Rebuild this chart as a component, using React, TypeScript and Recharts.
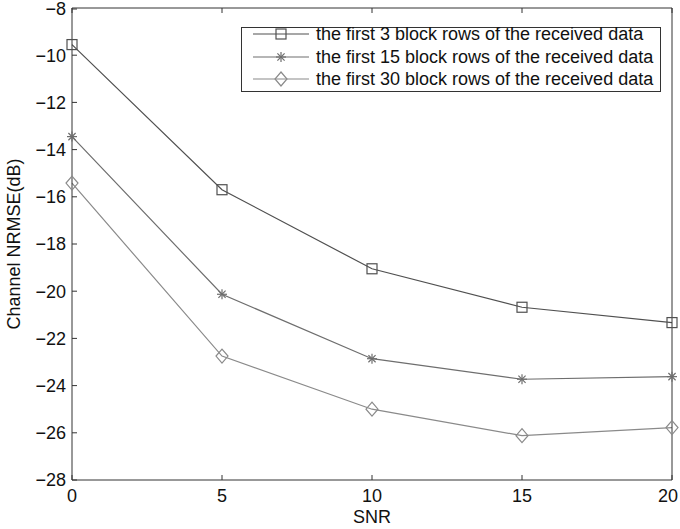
import { LineChart, Line, XAxis, YAxis } from "recharts";

const SNR = [0, 5, 10, 15, 20];
const ROWS_3 = [-9.55, -15.7, -19.05, -20.68, -21.33];
const ROWS_15 = [-13.45, -20.13, -22.86, -23.73, -23.62];
const ROWS_30 = [-15.42, -22.75, -25.0, -26.12, -25.78];
const Y_TICKS = [-28, -26, -24, -22, -20, -18, -16, -14, -12, -10, -8];

type Shape = "square" | "star" | "diamond";

const SERIES: { key: string; name: string; color: string; shape: Shape }[] = [
  { key: "r3", name: "the first 3 block rows of the received data", color: "#505050", shape: "square" },
  { key: "r15", name: "the first 15 block rows of the received data", color: "#6e6e6e", shape: "star" },
  { key: "r30", name: "the first 30 block rows of the received data", color: "#8a8a8a", shape: "diamond" },
];

const data = SNR.map((snr, i) => ({
  snr,
  r3: ROWS_3[i],
  r15: ROWS_15[i],
  r30: ROWS_30[i],
}));

const FONT = "'Liberation Sans', Arial, sans-serif";
const FS = 18;
const AXIS = "#333";
const minus = (v: number) => String(v).replace("-", "\u2212");

function Marker({ cx, cy, shape, color }: { cx: number; cy: number; shape: Shape; color: string }) {
  if (shape === "square") {
    return <rect x={cx - 5} y={cy - 5} width={10} height={10} fill="none" stroke={color} strokeWidth={1.2} />;
  }
  if (shape === "diamond") {
    return (
      <polygon
        points={`${cx},${cy - 7} ${cx + 6},${cy} ${cx},${cy + 7} ${cx - 6},${cy}`}
        fill="none"
        stroke={color}
        strokeWidth={1.2}
      />
    );
  }
  const r = 5;
  const d = 3.6;
  return (
    <g stroke={color} strokeWidth={1.2}>
      <line x1={cx - r} y1={cy} x2={cx + r} y2={cy} />
      <line x1={cx} y1={cy - r} x2={cx} y2={cy + r} />
      <line x1={cx - d} y1={cy - d} x2={cx + d} y2={cy + d} />
      <line x1={cx - d} y1={cy + d} x2={cx + d} y2={cy - d} />
    </g>
  );
}

const BottomTick = (props: any) => {
  const { x, y, payload } = props;
  // keep the last label inside the 680px frame
  const tx = Math.min(x, 668);
  return (
    <g>
      <line x1={x} y1={y} x2={x} y2={y - 5} stroke={AXIS} />
      <text x={tx} y={y + 22} textAnchor="middle" fontSize={FS} fontFamily={FONT} fill="#111">
        {payload.value}
      </text>
    </g>
  );
};

const TopTick = (props: any) => {
  const { x, y } = props;
  return <line x1={x} y1={y} x2={x} y2={y + 5} stroke={AXIS} />;
};

const LeftTick = (props: any) => {
  const { x, y, payload } = props;
  return (
    <g>
      <line x1={x} y1={y} x2={x + 5} y2={y} stroke={AXIS} />
      <text x={x - 6} y={y} dy="0.35em" textAnchor="end" fontSize={FS} fontFamily={FONT} fill="#111">
        {minus(payload.value)}
      </text>
    </g>
  );
};

const RightTick = (props: any) => {
  const { x, y } = props;
  return <line x1={x} y1={y} x2={x - 5} y2={y} stroke={AXIS} />;
};

function LegendBox() {
  return (
    <div
      style={{
        position: "absolute",
        left: 241,
        top: 27,
        width: 418,
        height: 63,
        border: `1px solid ${AXIS}`,
        background: "#fff",
        fontFamily: FONT,
        fontSize: FS,
        color: "#111",
      }}
    >
      {SERIES.map((s, i) => (
        <div
          key={s.key}
          style={{
            position: "absolute",
            left: 0,
            top: [6, 29, 51][i] - 11,
            height: 22,
            display: "flex",
            alignItems: "center",
            whiteSpace: "nowrap",
          }}
        >
          <svg width={72} height={22} style={{ display: "block" }}>
            <line x1={11} y1={11} x2={67} y2={11} stroke={s.color} strokeWidth={1.2} />
            <Marker cx={39} cy={11} shape={s.shape} color={s.color} />
          </svg>
          <span style={{ marginLeft: 2 }}>{s.name}</span>
        </div>
      ))}
    </div>
  );
}

export default function App() {
  return (
    <div style={{ position: "absolute", left: 0, top: 0, width: 680, height: 529, background: "#fff" }}>
      <LineChart width={680} height={529} data={data} margin={{ top: 0, right: 0, bottom: 0, left: 0 }}>
        <XAxis
          xAxisId="b"
          dataKey="snr"
          type="number"
          domain={[0, 20]}
          ticks={SNR}
          height={49}
          stroke={AXIS}
          tickLine={false}
          tickSize={0}
          tickMargin={0}
          tick={<BottomTick />}
          label={{
            content: () => (
              <text x={372} y={523} textAnchor="middle" fontSize={FS} fontFamily={FONT} fill="#111">
                SNR
              </text>
            ),
          }}
        />
        <XAxis
          xAxisId="t"
          orientation="top"
          dataKey="snr"
          type="number"
          domain={[0, 20]}
          ticks={SNR}
          height={8}
          stroke={AXIS}
          tickLine={false}
          tickSize={0}
          tickMargin={0}
          tick={<TopTick />}
        />
        <YAxis
          yAxisId="l"
          type="number"
          domain={[-28, -8]}
          ticks={Y_TICKS}
          width={72}
          stroke={AXIS}
          tickLine={false}
          tickSize={0}
          tickMargin={0}
          tick={<LeftTick />}
          label={{
            content: () => (
              <text
                x={20}
                y={244}
                transform="rotate(-90 20 244)"
                textAnchor="middle"
                fontSize={FS}
                fontFamily={FONT}
                fill="#111"
              >
                Channel NRMSE(dB)
              </text>
            ),
          }}
        />
        <YAxis
          yAxisId="r"
          orientation="right"
          type="number"
          domain={[-28, -8]}
          ticks={Y_TICKS}
          width={8}
          stroke={AXIS}
          tickLine={false}
          tickSize={0}
          tickMargin={0}
          tick={<RightTick />}
        />
        {SERIES.map((s) => (
          <Line
            key={s.key}
            xAxisId="b"
            yAxisId="l"
            dataKey={s.key}
            name={s.name}
            type="linear"
            stroke={s.color}
            strokeWidth={1.2}
            isAnimationActive={false}
            dot={(p: any) => <Marker key={`${s.key}-${p.index}`} cx={p.cx} cy={p.cy} shape={s.shape} color={s.color} />}
            activeDot={false}
          />
        ))}
      </LineChart>
      <LegendBox />
    </div>
  );
}
